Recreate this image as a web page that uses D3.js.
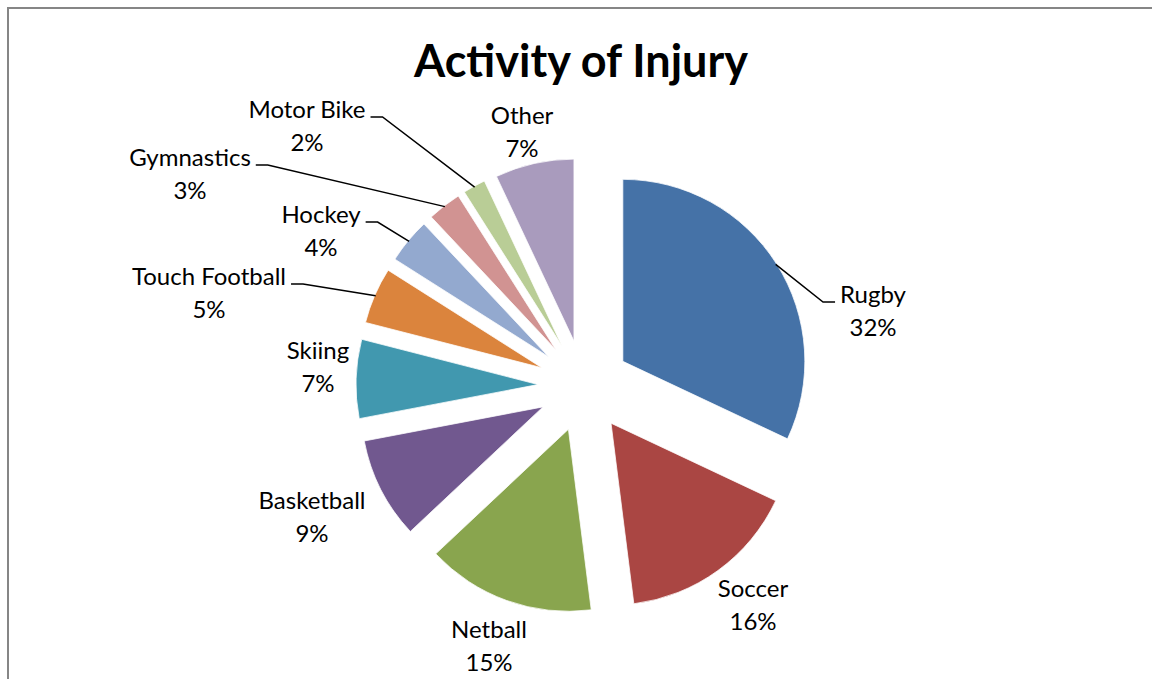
<!DOCTYPE html>
<html>
<head>
<meta charset="utf-8">
<script src="https://cdn.jsdelivr.net/npm/d3@7"></script>
<style>
  html, body { margin: 0; padding: 0; background: #ffffff; }
  svg { display: block; }
</style>
</head>
<body>
<svg id="chart" width="1152" height="679"></svg>
<script>
// Injuries by activity (share of all injuries, %)
const categories = ["Rugby", "Soccer", "Netball", "Basketball", "Skiing",
                    "Touch Football", "Hockey", "Gymnastics", "Motor Bike", "Other"];
const percents = [32, 16, 15, 9, 7, 5, 4, 3, 2, 7];
const sliceColors = ["#4572A7", "#AA4643", "#89A54E", "#71588F", "#4198AF",
                     "#DB843D", "#93A9CF", "#D19392", "#B9CD96", "#A99BBD"];
const chartTitle = "Activity of Injury";

// Label placement: centre of each two-line label relative to the pie centre,
// and whether a leader line joins it to its slice.
const labelLayout = [
  { dx:  289, dy:  -75, leader: true  },  // Rugby
  { dx:  169, dy:  219, leader: false },  // Soccer
  { dx:  -95, dy:  260, leader: false },  // Netball
  { dx: -272, dy:  131, leader: false },  // Basketball
  { dx: -266, dy:  -19, leader: false },  // Skiing
  { dx: -375, dy:  -93, leader: true  },  // Touch Football
  { dx: -263, dy: -155, leader: true  },  // Hockey
  { dx: -394, dy: -212, leader: true  },  // Gymnastics
  { dx: -277, dy: -260, leader: true  },  // Motor Bike
  { dx:  -62, dy: -254, leader: false }   // Other
];

const width = 1152, height = 679;
const cx = 584, cy = 386;       // pie centre
const radius = 182;             // slice radius
const explode = 46;             // distance each slice is pulled out
const fontFamily = "Lato, 'Open Sans', sans-serif";
const labelSize = 24;
const lineGap = 32.5;

const svg = d3.select("#chart");

// chart frame
svg.append("rect")
  .attr("x", 8).attr("y", 8)
  .attr("width", width + 20).attr("height", height + 20)
  .attr("fill", "#ffffff")
  .attr("stroke", "#868686")
  .attr("stroke-width", 2);

// title
svg.append("text")
  .attr("x", 581).attr("y", 77)
  .attr("text-anchor", "middle")
  .attr("font-family", fontFamily)
  .attr("font-weight", 700)
  .attr("font-size", 45)
  .attr("fill", "#000")
  .text(chartTitle);

const pie = d3.pie().sort(null).value(d => d)
  .startAngle(0).endAngle(2 * Math.PI);
const arcs = pie(percents);
const arc = d3.arc().innerRadius(0).outerRadius(radius);

const mid = d => (d.startAngle + d.endAngle) / 2;
const offset = (a, dist) => [dist * Math.sin(a), -dist * Math.cos(a)];

const g = svg.append("g").attr("transform", `translate(${cx},${cy})`);

// exploded slices
g.selectAll("path.slice")
  .data(arcs)
  .join("path")
  .attr("class", "slice")
  .attr("transform", d => {
    const [ox, oy] = offset(mid(d), explode);
    return `translate(${ox},${oy})`;
  })
  .attr("d", arc)
  .attr("fill", (d, i) => sliceColors[i])
  .attr("stroke", "#ffffff")
  .attr("stroke-width", 0.75);

// data labels: category name over percentage
const labels = g.selectAll("g.label")
  .data(arcs)
  .join("g")
  .attr("class", "label")
  .attr("transform", (d, i) => `translate(${labelLayout[i].dx},${labelLayout[i].dy})`);

labels.append("text")
  .attr("class", "name")
  .attr("y", -lineGap / 2 + labelSize * 0.35)
  .text((d, i) => categories[i]);

labels.append("text")
  .attr("class", "pct")
  .attr("y", lineGap / 2 + labelSize * 0.35)
  .text(d => d3.format(".0f")(d.value) + "%");

labels.selectAll("text")
  .attr("text-anchor", "middle")
  .attr("font-family", fontFamily)
  .attr("font-size", labelSize)
  .attr("fill", "#000");

// leader lines for labels that sit away from their slices
labels.each(function (d, i) {
  const lay = labelLayout[i];
  if (!lay.leader) return;
  const grp = d3.select(this);
  const halfW = d3.max(grp.selectAll("text").nodes(), n => n.getComputedTextLength()) / 2;
  const [ex, ey] = offset(mid(d), explode + radius - 1);   // point on the slice's outer arc
  const side = ex > lay.dx ? 1 : -1;
  const sx = lay.dx + side * (halfW + 5);
  const sy = lay.dy - 9;
  const elbowX = sx + side * 12;
  g.insert("path", "g.label")
    .attr("d", d3.line()([[sx, sy], [elbowX, sy], [ex, ey]]))
    .attr("fill", "none")
    .attr("stroke", "#000")
    .attr("stroke-width", 1.5);
});
</script>
</body>
</html>
